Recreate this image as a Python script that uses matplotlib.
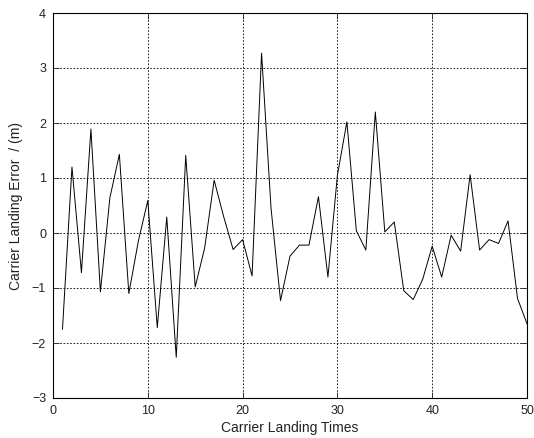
import matplotlib
matplotlib.use("Agg")
import matplotlib.pyplot as plt
import numpy as np

plt.rcParams['font.family'] = ['Liberation Sans', 'DejaVu Sans']

# landing index and measured error per landing
landings = np.arange(1, 51)
errors = [-1.75, 1.20, -0.72, 1.89, -1.07, 0.64, 1.43, -1.10, -0.15, 0.59,
          -1.72, 0.29, -2.26, 1.41, -0.98, -0.27, 0.96, 0.30, -0.30, -0.12,
          -0.78, 3.27, 0.45, -1.23, -0.42, -0.22, -0.22, 0.66, -0.80, 1.05,
          2.02, 0.04, -0.31, 2.20, 0.02, 0.20, -1.05, -1.21, -0.84, -0.24,
          -0.80, -0.04, -0.33, 1.06, -0.31, -0.12, -0.19, 0.22, -1.19, -1.65]

xticks = [0, 10, 20, 30, 40, 50]
yticks = [-3, -2, -1, 0, 1, 2, 3, 4]

fig = plt.figure(figsize=(5.34, 4.38), dpi=100)
ax = fig.add_axes([53 / 534, 40 / 438, 474 / 534, 385 / 438])

ax.plot(landings, errors, color='black', linewidth=0.7)

ax.set_xlim(0, 50)
ax.set_ylim(-3, 4)
ax.set_xticks(xticks)
ax.set_yticks(yticks)
ax.grid(True, linestyle=(0, (2, 2)), color='black', linewidth=0.6)
ax.tick_params(direction='in', length=4, width=0.6, labelsize=9,
               top=True, right=True, colors='#222222')
ax.tick_params(axis='x', pad=5)
ax.tick_params(axis='y', pad=5)
for s in ax.spines.values():
    s.set_linewidth(0.8)

ax.set_xlabel('Carrier Landing Times', fontsize=10, labelpad=3, color='#222222')
ax.set_ylabel('Carrier Landing Error  / (m)', fontsize=10, labelpad=6, color='#222222')

fig.savefig('out.png', dpi=100)
